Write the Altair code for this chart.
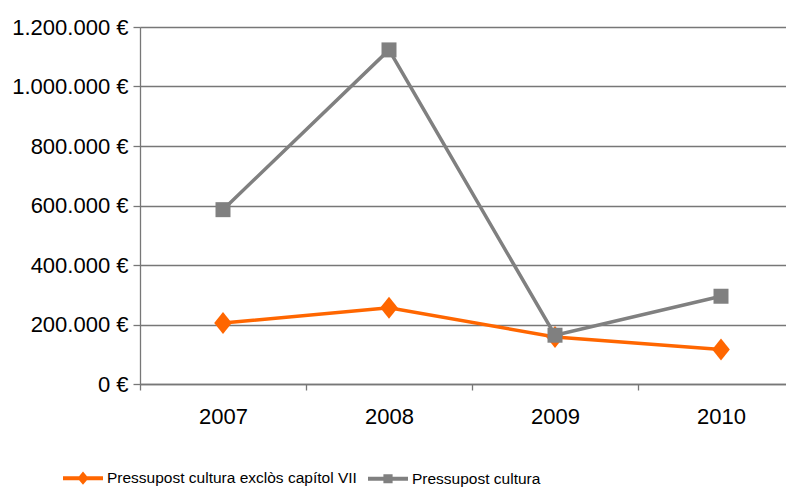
import altair as alt
import pandas as pd

years = [2007, 2008, 2009, 2010]
series_names = ["Pressupost cultura exclòs capítol VII", "Pressupost cultura"]
excl_vii = [205000, 256000, 158000, 116000]
total = [586000, 1123000, 164000, 295000]
y_ticks = [0, 200000, 400000, 600000, 800000, 1000000, 1200000]
x_ticks = [2006.5, 2007, 2007.5, 2008, 2008.5, 2009, 2009.5, 2010]

colors = ["#FF6600", "#808080"]

rows = []
for name, vals in zip(series_names, [excl_vii, total]):
    for yr, v in zip(years, vals):
        rows.append({"year": yr, "value": v, "series": name})
df = pd.DataFrame(rows)

W = 646
STEP = 166
x_domain = [2006.5, 2006.5 + W / STEP]

diamond = "M0,-1L0.8,0L0,1L-0.8,0Z"
square = "M-1,-1H1V1H-1Z"
leg_diamond = "M-1,-0.1H1V0.1H-1ZM0,-0.33L0.28,0L0,0.33L-0.28,0Z"
leg_square = "M-1,-0.1H1V0.1H-1ZM-0.23,-0.23H0.23V0.23H-0.23Z"

AX = "#777"
x_enc = alt.X("year:Q",
              scale=alt.Scale(domain=x_domain, nice=False, zero=False),
              axis=alt.Axis(title=None, values=x_ticks, grid=False,
                            labelExpr="datum.value % 1 === 0 ? '' + datum.value : ''",
                            labelOverlap=False, labelFlush=False,
                            labelFontSize=22, labelFont="Liberation Sans", labelColor="#000",
                            tickSize=6, labelPadding=16, domainColor=AX,
                            tickColor={"condition": {"test": "datum.value % 1 === 0", "value": "transparent"},
                                       "value": AX},
                            domainWidth=1.3, tickWidth=1.3))
y_enc = alt.Y("value:Q",
              scale=alt.Scale(domain=[0, 1200000], nice=False),
              axis=alt.Axis(title=None, values=y_ticks,
                            labelExpr="replace(replace(format(datum.value, ','), ',', '.'), ',', '.') + ' €'",
                            labelFontSize=22, labelFont="Liberation Sans", labelColor="#000",
                            tickSize=7, labelPadding=5, grid=True, gridColor=AX, gridWidth=1.3,
                            domainColor=AX, tickColor=AX, domainWidth=1.3, tickWidth=1.3))

base = alt.Chart(df)

layers = []
for name, col, shp, sz in [(series_names[0], colors[0], diamond, 484),
                           (series_names[1], colors[1], square, 225)]:
    sub = base.transform_filter(alt.datum.series == name)
    layers.append(sub.mark_line(color=col, strokeWidth=3.5).encode(x=x_enc, y=y_enc))
    layers.append(sub.mark_point(shape=shp, filled=True, size=sz, color=col, opacity=1)
                  .encode(x=x_enc, y=y_enc))

leg = dict(title=None, orient="none", direction="horizontal",
           legendX=-78, legendY=430, padding=0,
           symbolOpacity=1, symbolSize=1600,
           labelFont="Liberation Sans", labelFontSize=15.5,
           labelColor="#000", labelOffset=3, columnPadding=8, labelLimit=500)

legend_layer = base.mark_point(filled=True, opacity=0, size=1600).encode(
    x=x_enc, y=y_enc,
    color=alt.Color("series:N", sort=series_names,
                    scale=alt.Scale(domain=series_names, range=colors),
                    legend=alt.Legend(**leg)),
    shape=alt.Shape("series:N", sort=series_names,
                    scale=alt.Scale(domain=series_names, range=[leg_diamond, leg_square]),
                    legend=alt.Legend(**leg)),
)

chart = alt.layer(*layers, legend_layer).properties(
    width=W, height=357,
    autosize=alt.AutoSizeParams(type="none"),
    padding={"left": 132, "top": 19, "right": 0, "bottom": 116},
).configure_view(stroke=None).configure(background="white")

chart.save("out.html", embed_options={"renderer": "svg", "actions": False})
